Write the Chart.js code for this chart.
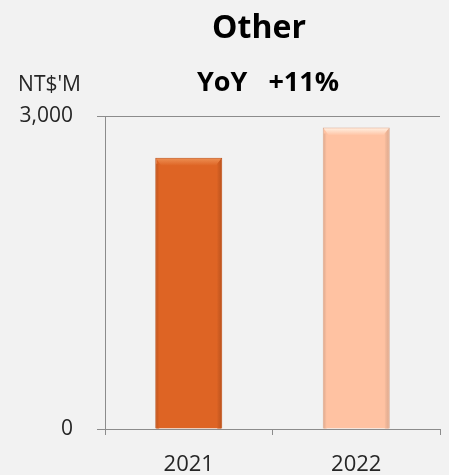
<!DOCTYPE html>
<html>
<head>
<meta charset="utf-8">
<script src="https://cdn.jsdelivr.net/npm/chart.js@4/dist/chart.umd.min.js"></script>
<style>
	html, body { margin: 0; padding: 0; background: #f2f2f2; }
	#wrapper-other { width: 449px; height: 475px; position: relative; }
</style>
</head>
<body>
<div id="wrapper-other"><canvas id="bc-other"></canvas></div>
<script>
// Revenue, NT$ millions
const years = ["2021", "2022"];
const revenue = [2600, 2890];
const barColors = ["#de6424", "#ffc2a2"];
const barEdges = ["#b9521d", "#d9a68b"];
const barHighlights = ["#ee9256", "#fff3e6"];
const yTicks = [0, 3000];

const chartTitle = "Other";
const yoyLabel = "YoY   +11%";
const unitLabel = "NT$'M";

const FONT = "'Open Sans', sans-serif";
const AXIS_GREY = "#8c8c8c";

// soft bevel on each bar: lighter top strip, darker side edges
const bevelPlugin = {
	id: "bevel",
	afterDatasetsDraw(chart) {
		let ctx = chart.ctx;
		let meta = chart.getDatasetMeta(0);
		meta.data.forEach((bar, i) => {
			let left = bar.x - bar.width / 2;
			let right = bar.x + bar.width / 2;
			let top = bar.y;
			let bottom = bar.base;
			ctx.save();

			// top highlight
			let g = ctx.createLinearGradient(0, top, 0, top + 8);
			g.addColorStop(0, barHighlights[i]);
			g.addColorStop(1, barColors[i]);
			ctx.fillStyle = g;
			ctx.beginPath();
			ctx.moveTo(left + 1, top + 1);
			ctx.lineTo(right - 1, top + 1);
			ctx.lineTo(right - 6, top + 8);
			ctx.lineTo(left + 6, top + 8);
			ctx.closePath();
			ctx.fill();

			// right edge shade
			g = ctx.createLinearGradient(right - 6, 0, right, 0);
			g.addColorStop(0, barColors[i]);
			g.addColorStop(1, barEdges[i]);
			ctx.fillStyle = g;
			ctx.beginPath();
			ctx.moveTo(right - 1, top + 1);
			ctx.lineTo(right - 1, bottom);
			ctx.lineTo(right - 5, bottom);
			ctx.lineTo(right - 5, top + 6);
			ctx.closePath();
			ctx.fill();

			// left edge shade
			g = ctx.createLinearGradient(left, 0, left + 4, 0);
			g.addColorStop(0, barEdges[i]);
			g.addColorStop(1, barColors[i]);
			ctx.fillStyle = g;
			ctx.fillRect(left + 1, top + 6, 3, bottom - top - 6);

			ctx.restore();
		});
	},
};

// title, YoY line and unit label above the plot
const headerPlugin = {
	id: "header",
	afterDraw(chart) {
		let ctx = chart.ctx;
		let area = chart.chartArea;
		ctx.save();
		ctx.fillStyle = "#000";
		ctx.textAlign = "center";
		ctx.textBaseline = "alphabetic";
		ctx.font = "bold 32px " + FONT;
		ctx.fillText(chartTitle, area.left + 154, 38);
		ctx.font = "bold 27px " + FONT;
		ctx.fillText(yoyLabel, area.left + 163, 91);
		ctx.fillStyle = "#262626";
		ctx.textAlign = "right";
		ctx.font = "21px " + FONT;
		ctx.fillText(unitLabel, 81, 91);
		ctx.restore();
	},
};

let ctx = document.getElementById("bc-other").getContext("2d");

new Chart(ctx, {
	type: "bar",
	data: {
		labels: years,
		datasets: [
			{
				data: revenue,
				backgroundColor: barColors,
				borderColor: barEdges,
				borderWidth: 1,
				barPercentage: 0.4,
				categoryPercentage: 1,
			},
		],
	},
	options: {
		responsive: true,
		maintainAspectRatio: false,
		animation: false,
		layout: {
			padding: { top: 116, right: 9, left: 0, bottom: 0 },
		},
		scales: {
			x: {
				afterFit: (scale) => {
					scale.height = 46;
				},
				grid: {
					display: true,
					offset: true,
					drawOnChartArea: false,
					color: AXIS_GREY,
					tickLength: 6,
				},
				border: { display: true, color: AXIS_GREY, width: 1 },
				ticks: {
					color: "#262626",
					font: { family: FONT, size: 22 },
					padding: 17,
				},
			},
			y: {
				min: 0,
				max: 3000,
				afterBuildTicks: (scale) => {
					scale.ticks = yTicks.map((v) => ({ value: v }));
				},
				afterFit: (scale) => {
					scale.width = 105;
				},
				grid: {
					color: AXIS_GREY,
					tickLength: 8,
				},
				border: { display: true, color: AXIS_GREY, width: 1 },
				ticks: {
					color: "#262626",
					font: { family: FONT, size: 21 },
					padding: 24,
					callback: (v) => v.toLocaleString("en-US"),
				},
			},
		},
		plugins: {
			legend: { display: false },
			title: { display: false },
			tooltip: { enabled: false },
		},
	},
	plugins: [bevelPlugin, headerPlugin],
});
</script>
</body>
</html>
